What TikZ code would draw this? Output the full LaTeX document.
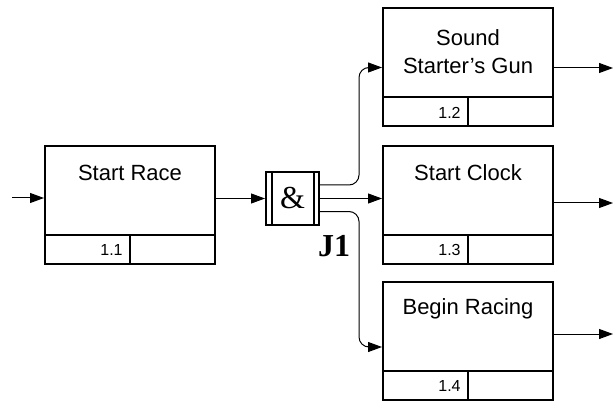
\documentclass[tikz,border=0pt]{standalone}
\usepackage{fontspec}
\setmainfont{Liberation Sans}
\newfontfamily\serfont{Liberation Serif}
\usetikzlibrary{arrows.meta}

\begin{document}
\begin{tikzpicture}[x=0.5pt,y=-0.5pt,
    procbox/.style={draw, line width=1pt, minimum width=85pt, minimum height=59pt, inner sep=0pt},
    jbox/.style={draw, line width=1pt, minimum width=26.5pt, minimum height=26.5pt, inner sep=0pt, font=\serfont\fontsize{16}{18}\selectfont},
    flow/.style={line width=0.5pt, rounded corners=5pt, -{Triangle[length=7pt,width=5pt]}}]
    \useasboundingbox (0,0) rectangle (613,400);
    \foreach \bx/\x/\y/\ty/\num/\txt in {b11/130/205/173/1.1/{Start Race}, b12/468/67.5/52/1.2/{Sound\\Starter's Gun}, b13/468/205/173/1.3/{Start Clock}, b14/468/341/309/1.4/{Begin Racing}} {
        \node[procbox] (\bx) at (\x,\y) {};
        \node[align=center, font=\fontsize{11}{14}\selectfont] at (\x,\ty) {\txt};
        \draw[line width=1pt] ([yshift=15pt]\bx.south west) -- ([yshift=15pt]\bx.south east);
        \draw[line width=1pt] ([yshift=15pt]\bx.south) -- (\bx.south);
        \node[anchor=east, inner sep=0pt, font=\fontsize{8}{9}\selectfont] at ([xshift=-3.5pt,yshift=7.5pt]\bx.south) {\num};
    }
    \node[jbox] (j1) at (292.5,198.5) {\&};
    \draw[line width=1pt] ([xshift=3.5pt]j1.north west) -- ([xshift=3.5pt]j1.south west);
    \draw[line width=1pt] ([xshift=-3pt]j1.north east) -- ([xshift=-3pt]j1.south east);
    \node[font=\serfont\bfseries\fontsize{16}{18}\selectfont] (j1lbl) at (334,246) {J1};
    \coordinate (in) at (12,198);
    \coordinate (o12) at (613,68);
    \coordinate (o13) at (613,203);
    \coordinate (o14) at (613,334);
    \draw[flow] (in) -- (in -| b11.west);
    \draw[flow] (b11.east |- j1) -- (j1.west);
    \draw[flow] ([yshift=6.75pt]j1.east) -- ++(39,0) |- (b12.west);
    \draw[flow] (j1.east) -- (j1.east -| b13.west);
    \draw[flow] ([yshift=-6.5pt]j1.east) -- ++(39,0) |- ([yshift=-3pt]b14.west);
    \draw[flow] (b12.east |- o12) -- (o12);
    \draw[flow] (b13.east |- o13) -- (o13);
    \draw[flow] (b14.east |- o14) -- (o14);
\end{tikzpicture}
\end{document}
